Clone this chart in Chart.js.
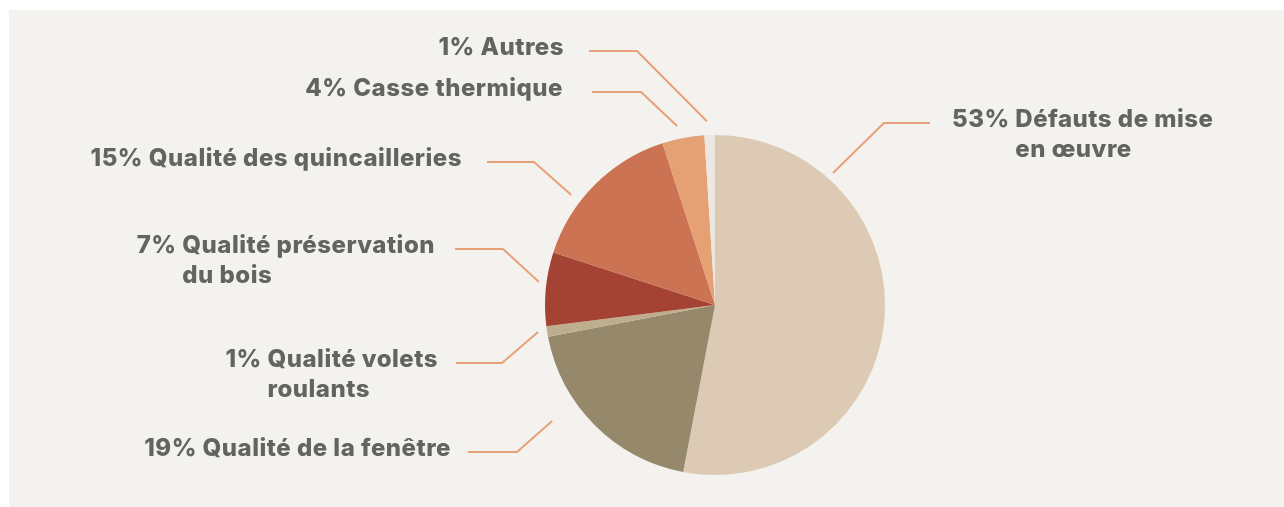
<!DOCTYPE html>
<html>
<head>
<meta charset="utf-8">
<script src="https://cdn.jsdelivr.net/npm/chart.js@4.4.1/dist/chart.umd.min.js"></script>
<style>
  html, body { margin: 0; padding: 0; background: #ffffff; width: 1284px; height: 507px; overflow: hidden; }
  #panel { position: absolute; left: 9px; top: 10px; right: 0; bottom: 0; background: #f3f2ee; }
  #wrap { position: absolute; left: 0; top: 0; width: 1284px; height: 507px; }
</style>
</head>
<body>
<div id="panel"></div>
<div id="wrap"><canvas id="c" width="1284" height="507"></canvas></div>
<script>
// ---- data ----
const categories = ['Défauts de mise en œuvre', 'Qualité de la fenêtre', 'Qualité volets roulants', 'Qualité préservation du bois', 'Qualité des quincailleries', 'Casse thermique', 'Autres'];
const shares = [53, 19, 1, 7, 15, 4, 1];
const labelLines = [
  ['Défauts de mise', 'en œuvre'],
  ['Qualité de la fenêtre'],
  ['Qualité volets', 'roulants'],
  ['Qualité préservation', 'du bois'],
  ['Qualité des quincailleries'],
  ['Casse thermique'],
  ['Autres']
];
const sliceColors = ['#dccab4', '#95886b', '#bfae8e', '#a44333', '#cb7352', '#e5a074', '#ece7e0'];

// ---- label layout (annotation placement only) ----
const labelLayout = [
  { frac: 0.219, off: 7,  elbow: [884, 123], end: 930, side: 'right', x: 952, y: 127 },
  { frac: 0.639, off: 30, elbow: [517, 452], end: 468, side: 'left',  x: 451, y: 456 },
  { frac: 0.58,  off: 9,  elbow: [502, 363], end: 456, side: 'left',  x: 438, y: 367 },
  { frac: 0.58,  off: 7.5,elbow: [503, 249], end: 455, side: 'left',  x: 435, y: 253 },
  { frac: 0.36,  off: 11, elbow: [534, 162], end: 487, side: 'left',  x: 462, y: 166 },
  { frac: 0.42,  off: 13, elbow: [641, 92],  end: 592, side: 'left',  x: 563, y: 96 },
  { frac: 0.30,  off: 14, elbow: [637, 51],  end: 589, side: 'left',  x: 564, y: 55 }
];
const FONT = '800 24px Inter, "Open Sans", sans-serif';
const TEXT_COLOR = '#63645f';
const LINE_COLOR = '#e9a078';
const LINE_H = 30;

const leaderPlugin = {
  id: 'leaders',
  afterDatasetsDraw(chart) {
    const ctx = chart.ctx;
    const meta = chart.getDatasetMeta(0);
    ctx.save();
    ctx.font = FONT;
    if ('letterSpacing' in ctx) ctx.letterSpacing = '0.5px';
    meta.data.forEach((arc, i) => {
      const L = labelLayout[i];
      const p = arc.getProps(['x', 'y', 'startAngle', 'endAngle', 'outerRadius'], true);
      const a = p.startAngle + L.frac * (p.endAngle - p.startAngle);
      const r = p.outerRadius + L.off;
      const ax = p.x + Math.cos(a) * r;
      const ay = p.y + Math.sin(a) * r;
      ctx.strokeStyle = LINE_COLOR;
      ctx.lineWidth = 2;
      ctx.lineJoin = 'round';
      ctx.beginPath();
      ctx.moveTo(ax, ay);
      ctx.lineTo(L.elbow[0], L.elbow[1]);
      ctx.lineTo(L.end, L.elbow[1]);
      ctx.stroke();

      const pct = shares[i] + '% ';
      const lines = labelLines[i];
      const first = pct + lines[0];
      ctx.fillStyle = TEXT_COLOR;
      ctx.textBaseline = 'alphabetic';
      ctx.textAlign = 'left';
      const wFirst = ctx.measureText(first).width;
      const start = L.side === 'left' ? L.x - wFirst : L.x;
      ctx.fillText(first, start, L.y);
      const indent = start + ctx.measureText(pct).width;
      for (let k = 1; k < lines.length; k++) {
        ctx.fillText(lines[k], indent, L.y + k * LINE_H);
      }
    });
    ctx.restore();
  }
};

function draw() {
  new Chart(document.getElementById('c'), {
    type: 'pie',
    data: {
      labels: categories,
      datasets: [{
        data: shares,
        backgroundColor: sliceColors,
        borderWidth: 0
      }]
    },
    options: {
      responsive: false,
      animation: false,
      layout: { padding: { left: 545, right: 399, top: 135, bottom: 32 } },
      plugins: { legend: { display: false }, tooltip: { enabled: false } }
    },
    plugins: [leaderPlugin]
  });
}
if (document.fonts && document.fonts.load) {
  document.fonts.load(FONT).then(draw, draw);
} else { draw(); }
</script>
</body>
</html>
